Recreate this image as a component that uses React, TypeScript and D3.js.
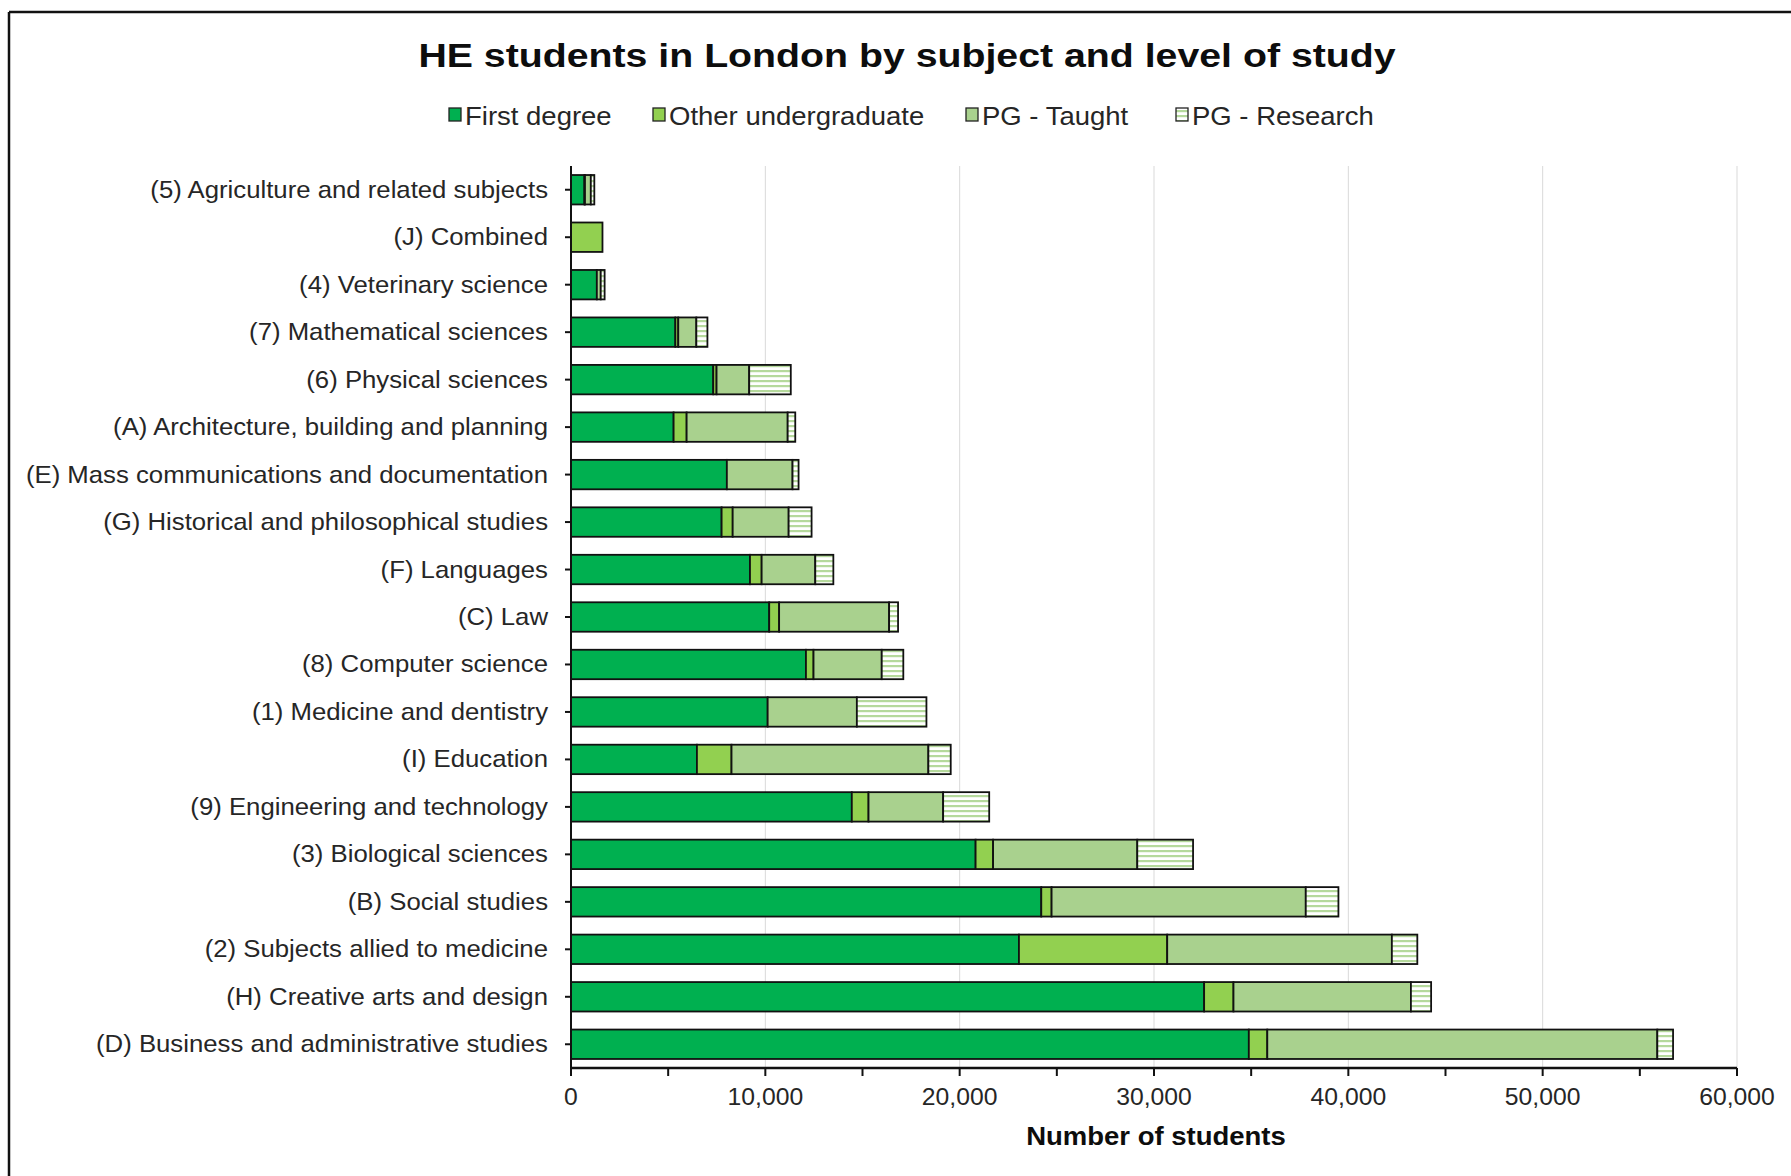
import React from "react";
import * as d3 from "d3";

const categories = [
  "(5) Agriculture and related subjects",
  "(J) Combined",
  "(4) Veterinary science",
  "(7) Mathematical sciences",
  "(6) Physical sciences",
  "(A) Architecture, building and planning",
  "(E) Mass communications and documentation",
  "(G) Historical and philosophical studies",
  "(F) Languages",
  "(C) Law",
  "(8) Computer science",
  "(1) Medicine and dentistry",
  "(I) Education",
  "(9) Engineering and technology",
  "(3) Biological sciences",
  "(B) Social studies",
  "(2) Subjects allied to medicine",
  "(H) Creative arts and design",
  "(D) Business and administrative studies",
];

const firstDegree = [690, 0, 1330, 5370, 7320, 5280, 8020, 7750, 9210, 10200, 12090, 10120, 6480, 14450, 20820, 24200, 23050, 32580, 34880];
const otherUndergraduate = [30, 1620, 0, 150, 170, 670, 0, 570, 600, 510, 390, 0, 1780, 860, 900, 530, 7630, 1510, 950];
const pgTaught = [300, 0, 200, 930, 1680, 5200, 3380, 2880, 2760, 5660, 3510, 4590, 10130, 3840, 7420, 13080, 11560, 9130, 20070];
const pgResearch = [180, 0, 200, 570, 2140, 390, 310, 1180, 930, 460, 1110, 3580, 1150, 2370, 2870, 1680, 1310, 1040, 810];

const seriesNames = ["First degree", "Other undergraduate", "PG - Taught", "PG - Research"];
const xTicks = [0, 10000, 20000, 30000, 40000, 50000, 60000];
const xMinorTicks = [0, 5000, 10000, 15000, 20000, 25000, 30000, 35000, 40000, 45000, 50000, 55000, 60000];

const fills = ["#00B050", "#92D050", "#A9D18E", "url(#pgr)"];
const FONT = "'Liberation Sans', Arial, sans-serif";

function SText(props: { x: number; y: number; sx: number; size: number; anchor?: string; bold?: boolean; fill?: string; children: any }) {
  return (
    <text
      transform={`translate(${props.x},${props.y}) scale(${props.sx},1)`}
      textAnchor={props.anchor || "start"}
      fontSize={props.size}
      fontWeight={props.bold ? "bold" : "normal"}
      fill={props.fill || "#262626"}
    >
      {props.children}
    </text>
  );
}

export default function App() {
  const W = 1791, H = 1176;
  const left = 571, right = 1737, top = 166, bottom = 1068;
  const x = d3.scaleLinear().domain([0, 60000]).range([left, right]);
  const y = d3.scaleBand().domain(categories).range([top, bottom]).paddingInner(0.38).paddingOuter(0.19);

  const rows = categories.map((c, i) => ({
    cat: c,
    vals: [firstDegree[i], otherUndergraduate[i], pgTaught[i], pgResearch[i]],
  }));
  const stack = d3.stack<any>().keys(["0", "1", "2", "3"]).value((d: any, k: string) => d.vals[+k]);
  const stacked = stack(rows as any);

  const legendX = [449, 653, 966, 1176];

  return (
    <svg width={W} height={H} style={{ position: "absolute", left: 0, top: 0, background: "#fff" }} fontFamily={FONT}>
      <defs>
        <pattern id="pgr" patternUnits="userSpaceOnUse" width="8" height="5">
          <rect width="8" height="5" fill="#ffffff" />
          <rect width="8" height="2.2" y="0" fill="#B5D99C" />
        </pattern>
      </defs>
      <rect x={0} y={0} width={W} height={H} fill="#fff" />
      <line x1={9} y1={12} x2={W} y2={12} stroke="#111" strokeWidth={2.5} />
      <line x1={9} y1={12} x2={9} y2={H} stroke="#111" strokeWidth={2.5} />

      <SText x={907} y={67} sx={1.155} size={34} anchor="middle" bold fill="#0d0d0d">
        HE students in London by subject and level of study
      </SText>

      {seriesNames.map((s, i) => (
        <g key={s}>
          <rect x={legendX[i]} y={108} width={12} height={13} fill={fills[i]} stroke="#222" strokeWidth={1.3} />
          <SText x={legendX[i] + 16} y={125} sx={1.1} size={25}>{s}</SText>
        </g>
      ))}

      {xTicks.map((t) => (
        <line key={"g" + t} x1={x(t)} x2={x(t)} y1={top} y2={bottom} stroke="#d9d9d9" strokeWidth={1} />
      ))}

      {stacked.map((layer, li) =>
        layer.map((d, i) => {
          const w = x(d[1]) - x(d[0]);
          if (w <= 0) return null;
          return (
            <rect
              key={li + "-" + i}
              x={x(d[0])}
              y={y(categories[i])}
              width={w}
              height={y.bandwidth()}
              fill={fills[li]}
              stroke="#111"
              strokeWidth={1.8}
            />
          );
        })
      )}

      <line x1={left} x2={left} y1={top} y2={bottom} stroke="#111" strokeWidth={2} />
      {categories.map((c) => (
        <g key={c}>
          <line x1={left - 6} x2={left} y1={y(c)! + y.bandwidth() / 2} y2={y(c)! + y.bandwidth() / 2} stroke="#111" strokeWidth={2} />
          <SText x={548} y={y(c)! + y.bandwidth() / 2 + 8} sx={1.073} size={24} anchor="end">{c}</SText>
        </g>
      ))}

      <line x1={left} x2={right} y1={bottom} y2={bottom} stroke="#111" strokeWidth={2.5} />
      {xMinorTicks.map((t) => (
        <line key={"t" + t} x1={x(t)} x2={x(t)} y1={bottom} y2={bottom + 8} stroke="#111" strokeWidth={2} />
      ))}
      {xTicks.map((t) => (
        <SText key={"l" + t} x={x(t)} y={bottom + 37} sx={1.03} size={24} anchor="middle">
          {d3.format(",")(t)}
        </SText>
      ))}
      <SText x={1156} y={1145} sx={1.1} size={25} anchor="middle" bold fill="#0d0d0d">
        Number of students
      </SText>
    </svg>
  );
}
